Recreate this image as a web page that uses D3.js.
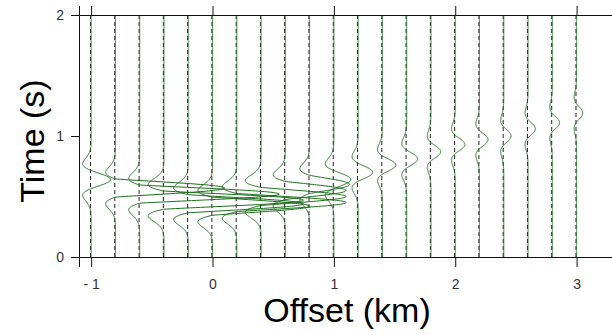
<!DOCTYPE html>
<html>
<head>
<meta charset="utf-8">
<script src="https://cdn.jsdelivr.net/npm/d3@7"></script>
<style>
  body { margin: 0; background: #fff; }
  svg { display: block; font-family: "Liberation Sans", Arial, sans-serif; }
</style>
</head>
<body>
<div id="chart"></div>
<script>
// trace offsets (km)
const offsets = [-1.0, -0.8, -0.6, -0.4, -0.2, 0.0, 0.2, 0.4, 0.6, 0.8, 1.0,
                 1.2, 1.4, 1.6, 1.8, 2.0, 2.2, 2.4, 2.6, 2.8, 3.0];
// arrival time of the wavelet peak on each trace (s)
const arrivals = [0.64, 0.57, 0.52, 0.47, 0.44, 0.42, 0.45, 0.50, 0.55, 0.60, 0.64,
                  0.70, 0.76, 0.81, 0.87, 0.93, 0.97, 1.00, 1.06, 1.11, 1.19];
// height of the positive peak (in km of offset)
const peakAmp = [0.16, 0.90, 1.15, 1.15, 0.95, 0.80, 0.90, 0.70, 0.50, 0.33, 0.14,
                 0.12, 0.11, 0.09, 0.08, 0.08, 0.07, 0.06, 0.06, 0.06, 0.05];
// depth of the side lobes (in km of offset)
const lobeAmp = [0.07, 0.08, 0.09, 0.13, 0.12, 0.12, 0.12, 0.13, 0.10, 0.08, 0.07,
                 0.05, 0.04, 0.04, 0.03, 0.03, 0.03, 0.025, 0.025, 0.02, 0.02];

const xTicks = [-1, 0, 1, 2, 3];
const yTicks = [0, 1, 2];
const freq = 3; // wavelet dominant frequency (Hz)

const width = 612, height = 335;
const margin = { top: 15, right: -1, bottom: 78, left: 79 };

const svg = d3.select('#chart')
  .append('svg')
  .attr('width', width)
  .attr('height', height);

const x = d3.scaleLinear()
  .domain([-1.1, 3.3])
  .range([margin.left, width - margin.right]);

const y = d3.scaleLinear()
  .domain([0, 2])
  .range([height - margin.bottom, margin.top]);

// unit Ricker wavelet
function ricker(tau) {
  const u = Math.pow(Math.PI * freq * tau, 2);
  return (1 - 2 * u) * Math.exp(-u);
}

const times = d3.range(0, 2.0001, 0.002);

const line = d3.line()
  .x(d => x(d[0]))
  .y(d => y(d[1]));

// dashed zero lines
svg.selectAll('line.base')
  .data(offsets)
  .enter()
  .append('line')
  .attr('class', 'base')
  .attr('x1', d => x(d) - 0.6)
  .attr('x2', d => x(d) - 0.6)
  .attr('y1', y(2))
  .attr('y2', y(0))
  .attr('stroke', '#222')
  .attr('stroke-width', 1)
  .attr('stroke-dasharray', '4,3');

// wiggles
offsets.forEach((off, i) => {
  const pts = times.map(t => {
    const r = ricker(t - arrivals[i]);
    const w = r > 0 ? peakAmp[i] * r : (lobeAmp[i] / 0.4463) * r;
    return [off + w, t];
  });
  svg.append('path')
    .attr('d', line(pts))
    .attr('fill', 'none')
    .attr('stroke', '#1b701b')
    .attr('stroke-width', 1);
});

// frame
svg.append('g')
  .attr('transform', `translate(0,${y(0)})`)
  .call(d3.axisBottom(x).tickValues(xTicks).tickSize(10).tickPadding(12)
    .tickFormat(d => d < 0 ? '- ' + Math.abs(d) : d));

svg.append('g')
  .attr('transform', `translate(0,${y(2)})`)
  .call(d3.axisTop(x).tickValues(xTicks).tickSize(9).tickFormat(''));

svg.append('g')
  .attr('transform', `translate(${x(-1.1)},0)`)
  .call(d3.axisLeft(y).tickValues(yTicks).tickSize(8).tickPadding(7)
    .tickFormat(d3.format('d')));

svg.selectAll('.domain')
  .attr('stroke', '#111');
svg.selectAll('.tick line')
  .attr('stroke', '#111');
svg.selectAll('.tick text')
  .attr('font-size', 14)
  .attr('fill', '#333')
  .attr('font-family', '"Liberation Sans", Arial, sans-serif');

// axis titles
svg.append('text')
  .attr('x', 347)
  .attr('y', 322)
  .attr('text-anchor', 'middle')
  .attr('font-size', 34)
  .attr('fill', '#000')
  .text('Offset (km)');

svg.append('text')
  .attr('transform', 'translate(44,141) rotate(-90)')
  .attr('text-anchor', 'middle')
  .attr('font-size', 34)
  .attr('fill', '#000')
  .text('Time (s)');
</script>
</body>
</html>
